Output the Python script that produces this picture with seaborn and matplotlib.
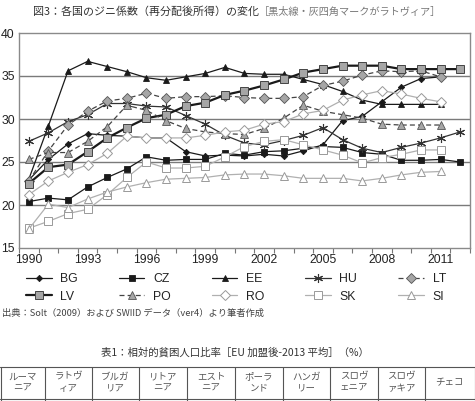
import matplotlib
matplotlib.use("Agg")
import matplotlib.pyplot as plt
import seaborn as sns
import pandas as pd
import numpy as np
from matplotlib.lines import Line2D

years = list(range(1990, 2013))
BG = [22.9, 25.3, 27.1, 28.3, 28.1, 28.0, 27.8, 27.8, 26.2, 25.7, 25.8, 25.7, 25.9, 25.7, 26.3, 27.0, 29.8, 30.3, 32.0, 33.7, 34.7, 34.9, None]
CZ = [20.4, 20.8, 20.6, 22.1, 23.2, 24.2, 25.6, 25.2, 25.3, 25.3, 26.0, 25.8, 26.2, 26.3, 26.6, 26.8, 26.7, 26.1, 25.9, 25.2, 25.2, 25.3, 25.0]
EE = [23.0, 29.2, 35.6, 36.7, 36.1, 35.5, 34.8, 34.5, 34.9, 35.3, 36.0, 35.3, 35.2, 35.2, 34.6, 34.0, 33.2, 32.2, 31.7, 31.7, 31.7, 31.7, None]
HU = [27.4, 28.4, 29.7, 30.5, 31.8, 31.8, 31.5, 31.4, 30.4, 29.4, 28.1, 27.2, 27.0, 27.5, 28.1, 29.0, 27.6, 26.6, 26.1, 26.7, 27.2, 27.8, 28.5]
LT = [22.8, 26.3, 29.3, 30.9, 32.1, 32.4, 33.0, 32.4, 32.6, 32.6, 32.7, 32.5, 32.4, 32.4, 32.6, 33.9, 34.4, 35.1, 35.6, 35.5, 35.6, 34.9, None]
LV = [22.5, 24.4, 24.7, 26.2, 27.8, 29.0, 30.1, 30.5, 31.5, 31.9, 32.8, 33.3, 33.9, 34.6, 35.4, 35.8, 36.2, 36.2, 36.2, 35.8, 35.8, 35.8, 35.8]
PO = [25.3, 26.1, 26.1, 27.4, 29.1, 31.6, 31.0, 29.8, 28.9, 28.5, 28.3, 28.2, 28.9, 30.1, 31.6, 30.9, 30.5, 30.1, 29.4, 29.3, 29.3, 29.3, None]
RO = [21.2, 22.8, 23.8, 24.7, 26.0, 28.0, 27.8, 27.8, 27.8, 28.1, 28.5, 28.7, 29.4, 29.7, 30.6, 31.0, 32.2, 32.8, 33.3, 32.9, 32.4, 32.0, None]
SK = [17.3, 18.1, 19.0, 19.5, 21.2, 23.2, 25.0, 24.3, 24.3, 24.5, 25.6, 26.8, 27.4, 27.6, 27.0, 26.4, 25.8, 24.9, 25.5, 25.9, 26.4, 26.4, None]
SI = [17.2, 20.1, 19.7, 20.7, 21.5, 22.1, 22.6, 23.0, 23.1, 23.2, 23.5, 23.6, 23.6, 23.4, 23.1, 23.1, 23.1, 22.8, 23.1, 23.5, 23.8, 23.9, None]

countries = ["BG", "CZ", "EE", "HU", "LT", "LV", "PO", "RO", "SK", "SI"]
series = [BG, CZ, EE, HU, LT, LV, PO, RO, SK, SI]
xtick_years = [1990, 1993, 1996, 1999, 2002, 2005, 2008, 2011]
yticks = [15, 20, 25, 30, 35, 40]

title1 = "図3：各国のジニ係数（再分配後所得）の変化"
title2 = "［黒太線・灰四角マークがラトヴィア］"
source = "出典：Solt（2009）および SWIID データ（ver4）より筆者作成"
table_title = "表1：相対的貧困人口比率［EU 加盟後-2013 平均］（%）"
table_headers = ["ルーマ\nニア", "ラトヴ\nィア", "ブルガ\nリア", "リトア\nニア", "エスト\nニア",
                 "ポーラ\nンド", "ハンガ\nリー", "スロヴ\nェニア", "スロヴ\nァキア", "チェコ"]

rows = []
for c, vals in zip(countries, series):
    for y, v in zip(years, vals):
        if v is not None:
            rows.append({"country": c, "year": y, "gini": v})
df = pd.DataFrame(rows)

sns.set_theme(style="white")
plt.rcParams["font.family"] = ["Liberation Sans", "Noto Sans CJK JP", "DejaVu Sans"]

W, H = 475, 401
fig = plt.figure(figsize=(W / 100, H / 100), dpi=100)
fig.patch.set_facecolor("white")
ax = fig.add_axes([19 / W, 1 - 248 / H, 451 / W, 215 / H])

dark = "#1a1a1a"
gfill = "#a6a6a6"
light = "#b0b0b0"
dash = (0, (4, 2.5))
styles = {
    "BG": dict(color=dark, lw=0.9, marker="D", ms=3.2, mfc=dark, mec=dark, mew=0.6),
    "CZ": dict(color=dark, lw=0.9, marker="s", ms=4.5, mfc=dark, mec=dark, mew=0.6),
    "EE": dict(color=dark, lw=0.9, marker="^", ms=5.0, mfc=dark, mec=dark, mew=0.6),
    "HU": dict(color="#333333", lw=0.9, marker=(6, 2, 0), ms=6.5, mfc="#333333", mec="#333333", mew=0.8),
    "LT": dict(color="#444444", lw=0.9, ls=dash, marker="D", ms=4.6, mfc=gfill, mec="#555555", mew=0.6),
    "LV": dict(color=dark, lw=1.6, marker="s", ms=6.2, mfc=gfill, mec="#444444", mew=0.7),
    "PO": dict(color="#444444", lw=0.9, ls=dash, marker="^", ms=5.8, mfc=gfill, mec="#555555", mew=0.6),
    "RO": dict(color=light, lw=0.9, marker="D", ms=4.6, mfc="white", mec="#999999", mew=0.7),
    "SK": dict(color=light, lw=0.9, marker="s", ms=5.2, mfc="white", mec="#999999", mew=0.7),
    "SI": dict(color=light, lw=0.9, marker="^", ms=6.0, mfc="white", mec="#999999", mew=0.7),
}

for gl in [20, 25, 30, 35]:
    ax.axhline(gl, color="#7a7a7a", lw=1.0, zorder=0.5)

for i, c in enumerate(countries):
    st = styles[c]
    sub = df[df["country"] == c]
    kw = dict(color=st["color"], linewidth=st["lw"], marker=st["marker"], markersize=st["ms"],
              markerfacecolor=st["mfc"], markeredgecolor=st["mec"], markeredgewidth=st["mew"])
    if "ls" in st:
        kw["linestyle"] = st["ls"]
    sns.lineplot(data=sub, x="year", y="gini", ax=ax, estimator=None, errorbar=None,
                 sort=True, label=c, zorder=2 + i, **kw)

ax.set_xlim(1989.5, 2012.5)
ax.set_ylim(15, 40)
ax.set_xlabel("")
ax.set_ylabel("")
ax.set_yticks(yticks)
ax.set_yticklabels([str(t) for t in yticks])
ax.set_xticks(xtick_years)
ax.set_xticklabels([str(t) for t in xtick_years])
ax.set_xticks(np.arange(1989.5, 2013.0, 1.0), minor=True)
ax.tick_params(axis="x", which="major", length=0, pad=4, labelsize=8.8, colors="#222222")
ax.tick_params(axis="x", which="minor", length=3.5, width=0.8, color="#777777", direction="out", bottom=True)
ax.tick_params(axis="y", which="major", length=0, pad=3, labelsize=8.8, colors="#222222")
for s in ["left", "bottom", "top", "right"]:
    ax.spines[s].set_color("#8a8a8a")
    ax.spines[s].set_linewidth(1.0)

handles, labels = ax.get_legend_handles_labels()
hmap = dict(zip(labels, handles))
# legend fills column-first; reorder so rows read BG..LT / LV..SI
order = []
for k in range(5):
    order += [countries[k], countries[k + 5]]
leg = ax.legend([hmap[o] for o in order], order, ncol=5, loc="upper left",
                bbox_to_anchor=(26 / W, 1 - 273 / H), bbox_transform=fig.transFigure,
                frameon=False, fontsize=8.8, handlelength=2.1, handletextpad=0.7,
                columnspacing=3.35, labelspacing=0.45, borderpad=0, borderaxespad=0,
                numpoints=1)
for t in leg.get_texts():
    t.set_color("#222222")

cjk = ["Noto Sans CJK JP", "DejaVu Sans"]
fig.text(33 / W, 1 - 12 / H, title1, fontsize=7.9, family=cjk, color="#333333", va="center", ha="left")
fig.text(259 / W, 1 - 12 / H, title2, fontsize=7.3, family=cjk, color="#777777", va="center", ha="left")
fig.text(2 / W, 1 - 313 / H, source, fontsize=6.7, family=cjk, color="#444444", va="center", ha="left")
fig.text(235 / W, 1 - 352 / H, table_title, fontsize=7.5, family=cjk, color="#333333", va="center", ha="center")

bounds = [0.5, 45, 92, 139, 187, 235, 283, 330, 378, 425, 474.5]
top_y = 367
fig.add_artist(Line2D([0, 1], [1 - top_y / H, 1 - top_y / H], transform=fig.transFigure, color="#555555", lw=0.8))
fig.add_artist(Line2D([0, 1], [1 - 398.5 / H, 1 - 398.5 / H], transform=fig.transFigure, color="#555555", lw=0.8))
for b in bounds:
    fig.add_artist(Line2D([b / W, b / W], [1 - top_y / H, 0], transform=fig.transFigure, color="#555555", lw=0.8))
for i, h in enumerate(table_headers):
    cx = (bounds[i] + bounds[i + 1]) / 2
    fig.text(cx / W, 1 - 382.5 / H, h, fontsize=6.8, family=cjk, color="#555555",
             va="center", ha="center", linespacing=1.3)

fig.savefig("out.png", dpi=100, facecolor="white")
